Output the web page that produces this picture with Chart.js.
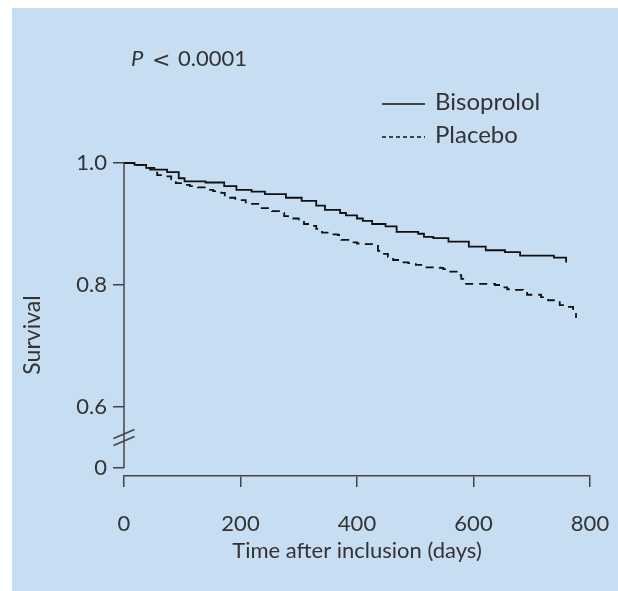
<!DOCTYPE html>
<html>
<head>
<meta charset="utf-8">
<script src="https://cdn.jsdelivr.net/npm/chart.js@4.4.1/dist/chart.umd.min.js"></script>
<style>
  html, body { margin: 0; padding: 0; background: #fff; overflow: hidden; }
  canvas { display: block; }
</style>
</head>
<body>
<canvas id="survivalChart" width="618" height="591"></canvas>
<script>
// Kaplan-Meier steps: day of the step, survival after it
const bisoprololDays = [0, 18, 38, 52, 74, 94, 104, 140, 172, 193, 219, 242, 278, 305, 330, 345, 371, 381, 400, 410, 426, 449, 468, 505, 515, 531, 557, 592, 621, 654, 680, 738, 759];
const bisoprololSurvival = [1.0, 0.997, 0.992, 0.989, 0.985, 0.975, 0.970, 0.968, 0.962, 0.956, 0.953, 0.949, 0.943, 0.938, 0.930, 0.923, 0.918, 0.914, 0.909, 0.905, 0.900, 0.896, 0.887, 0.884, 0.879, 0.877, 0.871, 0.863, 0.857, 0.854, 0.848, 0.845, 0.837];

const placeboDays = [0, 19, 38, 45, 52, 57, 72, 81, 89, 101, 113, 127, 141, 153, 167, 173, 191, 209, 232, 254, 266, 275, 288, 300, 309, 321, 330, 340, 352, 367, 373, 385, 400, 412, 426, 436, 443, 453, 462, 474, 488, 501, 512, 542, 548, 556, 571, 579, 584, 637, 647, 658, 671, 685, 692, 716, 728, 748, 760, 771, 776];
const placeboSurvival = [1.0, 0.997, 0.992, 0.989, 0.984, 0.980, 0.978, 0.973, 0.967, 0.964, 0.962, 0.960, 0.956, 0.954, 0.951, 0.943, 0.939, 0.933, 0.926, 0.921, 0.918, 0.913, 0.909, 0.905, 0.900, 0.897, 0.892, 0.886, 0.883, 0.882, 0.874, 0.870, 0.868, 0.867, 0.864, 0.856, 0.851, 0.846, 0.841, 0.837, 0.836, 0.833, 0.829, 0.828, 0.826, 0.822, 0.816, 0.810, 0.802, 0.800, 0.796, 0.793, 0.792, 0.790, 0.784, 0.780, 0.775, 0.767, 0.764, 0.756, 0.746];

const xTicks = [0, 200, 400, 600, 800];
const yTicks = [0, 0.6, 0.8, 1.0];
const yTickLabels = ['0', '0.6', '0.8', '1.0'];
const seriesNames = ['Bisoprolol', 'Placebo'];
const pValueLabel = ['P', '<', '0.0001'];

// the y axis is broken: 0 is drawn just below 0.6
const BREAK_POS = 0.5;
const axisValue = v => (v === 0 ? BREAK_POS : v);

const TEXT = '#333';
const AXIS = '#444';

function toPoints(days, surv) {
    return days.map((d, i) => ({ x: d, y: surv[i] }));
}

const decorPlugin = {
    id: 'decor',
    beforeDraw(chart) {
        const ctx = chart.ctx;
        ctx.save();
        ctx.fillStyle = '#ffffff';
        ctx.fillRect(0, 0, chart.width, chart.height);
        ctx.fillStyle = '#c7ddf1';
        ctx.fillRect(12, 8, chart.width - 12, chart.height - 8);
        ctx.restore();
    },
    afterDraw(chart) {
        const ctx = chart.ctx;
        const y = chart.scales.y;
        const x0 = chart.chartArea.left;
        ctx.save();

        // y axis line with break marks
        ctx.strokeStyle = AXIS;
        ctx.lineWidth = 1.5;
        ctx.beginPath();
        ctx.moveTo(x0, y.getPixelForValue(1.0));
        ctx.lineTo(x0, y.getPixelForValue(BREAK_POS));
        ctx.stroke();
        const midBreak = (y.getPixelForValue(0.6) + y.getPixelForValue(BREAK_POS)) / 2;
        [-3.5, 3.5].forEach(off => {
            ctx.beginPath();
            ctx.moveTo(x0 - 10.5, midBreak + off + 4.5);
            ctx.lineTo(x0 + 10.5, midBreak + off - 4.5);
            ctx.stroke();
        });

        // y title
        ctx.fillStyle = TEXT;
        ctx.font = '23px Lato';
        ctx.textAlign = 'center';
        ctx.textBaseline = 'middle';
        ctx.save();
        ctx.translate(33, 335);
        ctx.rotate(-Math.PI / 2);
        ctx.fillText('Survival', 0, 0);
        ctx.restore();

        // P value
        ctx.textAlign = 'left';
        ctx.textBaseline = 'alphabetic';
        ctx.font = 'italic 22px Lato';
        ctx.fillText(pValueLabel[0], 131, 66);
        ctx.font = '22px "DejaVu Sans"';
        ctx.fillText(pValueLabel[1], 152, 67);
        ctx.font = '22px Lato';
        ctx.fillText(pValueLabel[2], 178, 66);

        // legend
        const rows = [104, 137];
        chart.data.datasets.forEach((ds, i) => {
            ctx.strokeStyle = '#111';
            ctx.lineWidth = 1.6;
            ctx.setLineDash(i === 0 ? [] : [4, 3]);
            ctx.beginPath();
            ctx.moveTo(382, rows[i]);
            ctx.lineTo(425, rows[i]);
            ctx.stroke();
            ctx.setLineDash([]);
            ctx.font = '24px Lato';
            ctx.fillText(ds.label, 435, rows[i] + 6);
        });
        ctx.restore();
    }
};

new Chart(document.getElementById('survivalChart'), {
    type: 'line',
    data: {
        datasets: [{
            label: seriesNames[0],
            data: toPoints(bisoprololDays, bisoprololSurvival),
            borderColor: '#111',
            borderWidth: 1.8,
            stepped: 'before',
            pointRadius: 0,
            fill: false,
            clip: false
        }, {
            label: seriesNames[1],
            data: toPoints(placeboDays, placeboSurvival),
            borderColor: '#111',
            borderWidth: 1.8,
            borderDash: [8, 6],
            stepped: 'before',
            pointRadius: 0,
            fill: false,
            clip: false
        }]
    },
    options: {
        responsive: false,
        animation: false,
        layout: {
            padding: { left: 0, top: 163, right: 28, bottom: 27 }
        },
        plugins: {
            legend: { display: false },
            tooltip: { enabled: false }
        },
        scales: {
            x: {
                type: 'linear',
                min: 0,
                max: 800,
                afterBuildTicks: scale => {
                    scale.ticks = xTicks.map(v => ({ value: v }));
                },
                afterFit: scale => {
                    scale.height = 88;
                    // tick padding is vertical only here
                    scale.paddingLeft = 0;
                    scale.paddingRight = 0;
                },
                grid: {
                    drawOnChartArea: false,
                    tickLength: 11,
                    color: AXIS,
                    lineWidth: 1.5
                },
                border: { display: true, color: AXIS, width: 1.5 },
                ticks: {
                    padding: 24,
                    color: TEXT,
                    font: { family: 'Lato', size: 22 }
                },
                title: {
                    display: true,
                    text: 'Time after inclusion (days)',
                    color: TEXT,
                    font: { family: 'Lato', size: 22 },
                    padding: { top: 0, bottom: 0 }
                }
            },
            y: {
                type: 'linear',
                min: BREAK_POS - 8 / 610,
                max: 1.0,
                afterBuildTicks: scale => {
                    scale.ticks = yTicks.map(v => ({ value: axisValue(v) }));
                },
                afterFit: scale => { scale.width = 124; },
                grid: {
                    drawOnChartArea: false,
                    tickLength: 11,
                    color: AXIS,
                    lineWidth: 1.5
                },
                border: { display: false },
                ticks: {
                    padding: 6,
                    color: TEXT,
                    font: { family: 'Lato', size: 22 },
                    callback: (value, index) => yTickLabels[index]
                }
            }
        }
    },
    plugins: [decorPlugin]
});
</script>
</body>
</html>
